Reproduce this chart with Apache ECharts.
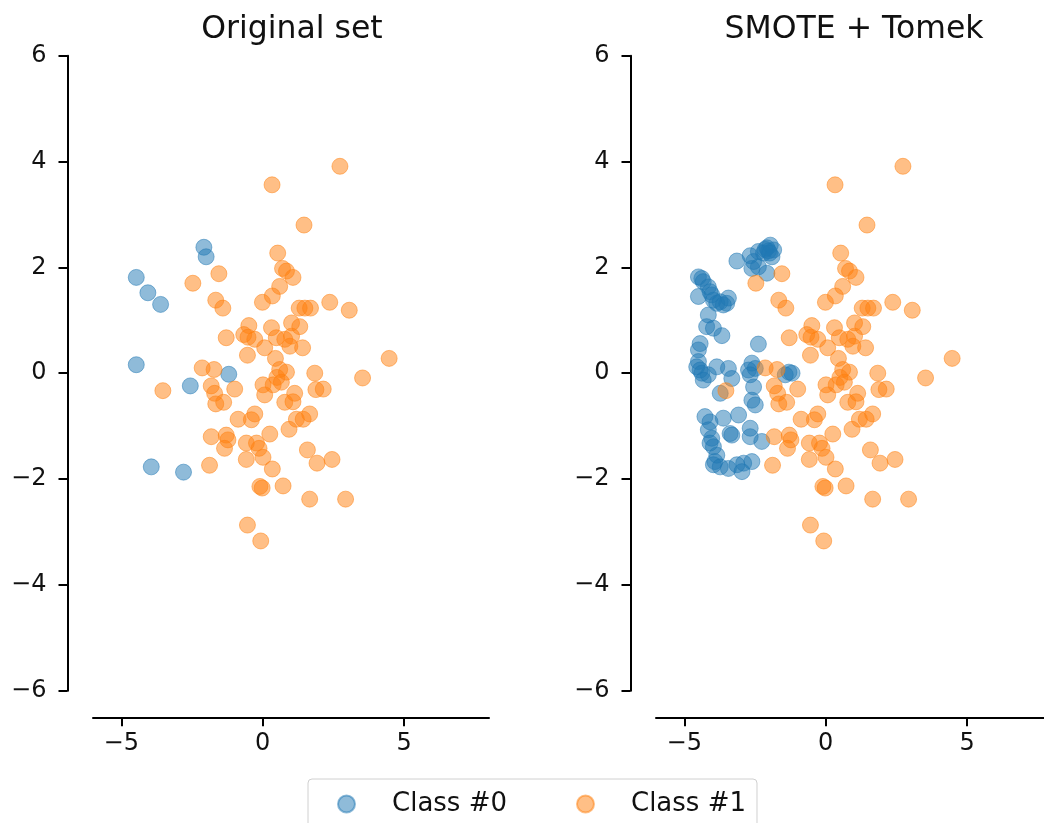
<!DOCTYPE html>
<html>
<head>
<meta charset="utf-8">
<title>Original set vs SMOTE + Tomek</title>
<script src="https://cdn.jsdelivr.net/npm/echarts@6/dist/echarts.min.js"></script>
<style>
  html, body { margin: 0; padding: 0; background: #fff; }
  #chart { width: 1044px; height: 823px; }
</style>
</head>
<body>
<div id="chart"></div>
<script>
// Panel titles and legend names
const panelTitles = ['Original set', 'SMOTE + Tomek'];
const classNames = ['Class #0', 'Class #1'];

// Tick positions shared by both panels
const xTicks = [-5, 0, 5];
const yTicks = [-6, -4, -2, 0, 2, 4, 6];

// Minority class before resampling
const origClass0 = [
  [-2.08, 2.38], [-2.00, 2.20], [-4.47, 1.81], [-4.06, 1.52], [-3.61, 1.30],
  [-4.47, 0.16], [-1.20, -0.02], [-2.56, -0.24], [-3.94, -1.77], [-2.80, -1.87]
];

// Majority class before resampling
const origClass1 = [
  [2.73, 3.91], [0.33, 3.56], [1.46, 2.80], [0.53, 2.27], [0.70, 1.98],
  [0.84, 1.93], [1.07, 1.81], [-1.55, 1.88], [-2.47, 1.70], [0.60, 1.64],
  [0.34, 1.46], [-0.01, 1.34], [-1.66, 1.38], [-1.41, 1.23], [2.37, 1.34],
  [3.06, 1.19], [1.29, 1.23], [1.49, 1.23], [1.69, 1.23], [-0.49, 0.90],
  [0.31, 0.86], [1.02, 0.95], [1.31, 0.88], [-1.29, 0.67], [-0.67, 0.73],
  [-0.52, 0.68], [-0.28, 0.64], [0.48, 0.67], [0.78, 0.64], [1.02, 0.70],
  [0.07, 0.48], [0.96, 0.51], [1.41, 0.48], [-0.54, 0.34], [0.45, 0.28],
  [4.47, 0.28], [-2.14, 0.10], [-1.72, 0.07], [0.60, 0.07], [0.84, 0.02],
  [0.50, -0.08], [1.84, 0.00], [3.53, -0.09], [-3.53, -0.33], [-1.82, -0.24],
  [-1.70, -0.38], [-1.66, -0.58], [-1.38, -0.55], [-0.99, -0.30], [0.01, -0.22],
  [0.07, -0.41], [0.37, -0.22], [0.66, -0.17], [0.78, -0.55], [1.07, -0.54],
  [1.13, -0.38], [1.88, -0.31], [2.14, -0.30], [-0.87, -0.87], [-0.40, -0.88],
  [-0.28, -0.77], [0.93, -1.06], [1.19, -0.87], [1.43, -0.87], [1.66, -0.77],
  [-1.82, -1.20], [-1.29, -1.17], [-1.23, -1.26], [-1.35, -1.42], [-0.58, -1.32],
  [-0.22, -1.32], [-0.13, -1.42], [0.25, -1.15], [-0.58, -1.63], [0.01, -1.59],
  [0.34, -1.81], [-1.88, -1.74], [-0.10, -2.14], [-0.02, -2.17], [0.72, -2.13],
  [1.58, -1.45], [1.92, -1.70], [2.45, -1.63], [1.66, -2.38], [2.93, -2.38],
  [-0.54, -2.87], [-0.07, -3.17]
];

// Minority class after SMOTE oversampling and Tomek-link cleaning
const resampledClass0 = [
  [-3.14, 2.12], [-2.67, 2.22], [-2.38, 2.30], [-2.08, 2.37], [-1.96, 2.42],
  [-2.20, 2.27], [-1.90, 2.20], [-2.61, 1.98], [-2.38, 2.01], [-2.08, 1.89],
  [-2.55, 2.11], [-2.02, 2.31], [-1.84, 2.33], [-2.14, 2.34], [-1.98, 2.27],
  [-4.50, 1.82], [-4.38, 1.79], [-4.33, 1.73], [-4.15, 1.63], [-4.09, 1.54],
  [-4.03, 1.48], [-4.50, 1.45], [-3.97, 1.38], [-3.85, 1.32], [-3.73, 1.35],
  [-3.50, 1.32], [-3.44, 1.42], [-3.62, 1.29], [-4.15, 1.10], [-4.21, 0.88],
  [-3.97, 0.85], [-3.67, 0.71], [-2.38, 0.55], [-4.44, 0.56], [-4.50, 0.44],
  [-4.50, 0.22], [-4.56, 0.12], [-4.44, 0.06], [-4.38, 0.00], [-4.33, -0.13],
  [-4.15, -0.03], [-3.85, 0.12], [-3.44, 0.09], [-3.32, -0.10], [-3.73, -0.38],
  [-2.61, 0.19], [-2.49, 0.09], [-2.73, 0.06], [-2.67, -0.03], [-2.55, -0.26],
  [-2.61, -0.51], [-2.49, -0.60], [-1.19, 0.00], [-1.43, -0.03], [-1.30, 0.02],
  [-4.27, -0.82], [-4.09, -0.92], [-3.62, -0.85], [-3.08, -0.79], [-4.15, -1.07],
  [-4.03, -1.23], [-4.09, -1.32], [-3.97, -1.39], [-3.85, -1.55], [-3.92, -1.67],
  [-3.97, -1.73], [-3.73, -1.77], [-3.38, -1.14], [-3.32, -1.17], [-2.67, -1.04],
  [-2.67, -1.20], [-2.26, -1.29], [-3.44, -1.80], [-3.14, -1.73], [-2.90, -1.70],
  [-2.61, -1.67], [-2.96, -1.86]
];

// The majority class keeps its samples in the resampled set
const resampledClass1 = origClass1;

const FONT = 'DejaVu Sans';
const BLUE = 'rgba(31,119,180,0.5)';
const ORANGE = 'rgba(255,127,14,0.5)';

const fmt = v => (v < 0 ? '\u2212' + Math.abs(v) : String(v));

const gridBox = { top: 55.7, height: 635, width: 396 };
const grids = [
  Object.assign({ left: 93, outerBoundsMode: 'none' }, gridBox),
  Object.assign({ left: 656, outerBoundsMode: 'none' }, gridBox)
];

function xAxisFor(i) {
  return {
    type: 'value', gridIndex: i, min: -6, max: 8, offset: 26.6,
    splitLine: { show: false },
    axisLine: { show: true, onZero: false, lineStyle: { color: '#000', width: 2 } },
    axisTick: { show: true, length: 9, customValues: xTicks, lineStyle: { color: '#000', width: 2 } },
    axisLabel: { customValues: xTicks, formatter: fmt, margin: 14, fontFamily: FONT, fontSize: 24, color: '#111' }
  };
}
function yAxisFor(i) {
  return {
    type: 'value', gridIndex: i, min: -6, max: 6, interval: 2, offset: 25.5,
    splitLine: { show: false },
    axisLine: { show: true, onZero: false, lineStyle: { color: '#000', width: 2 } },
    axisTick: { show: true, length: 9, customValues: yTicks, lineStyle: { color: '#000', width: 2 } },
    axisLabel: { customValues: yTicks, formatter: fmt, margin: 21, fontFamily: FONT, fontSize: 24, color: '#111' }
  };
}

function scatter(name, data, i, color) {
  return {
    type: 'scatter', name: name, data: data,
    xAxisIndex: i, yAxisIndex: i,
    symbol: 'circle', symbolSize: 16,
    itemStyle: { color: color, borderColor: color, borderWidth: 1, opacity: 1 },
    emphasis: { disabled: true },
    animation: false
  };
}

const chart = echarts.init(document.getElementById('chart'), null, { renderer: 'canvas' });
chart.setOption({
  backgroundColor: '#fff',
  animation: false,
  title: [
    { text: panelTitles[0], left: 287, top: 9, textAlign: 'center',
      textStyle: { fontFamily: FONT, fontSize: 31.5, fontWeight: 'normal', color: '#111' } },
    { text: panelTitles[1], left: 849, top: 9, textAlign: 'center',
      textStyle: { fontFamily: FONT, fontSize: 31.5, fontWeight: 'normal', color: '#111' } }
  ],
  legend: {
    data: classNames.map(n => ({ name: n, icon: 'circle' })),
    left: 308, top: 779,
    orient: 'horizontal',
    padding: [12, 11, 12, 29],
    itemWidth: 17, itemHeight: 17, itemGap: 69,
    borderColor: '#d0d0d0', borderWidth: 1, borderRadius: 4,
    selectedMode: false,
    textStyle: { fontFamily: FONT, fontSize: 26, color: '#111', padding: [0, 0, 0, 32], lineHeight: 26 }
  },
  grid: grids,
  xAxis: [xAxisFor(0), xAxisFor(1)],
  yAxis: [yAxisFor(0), yAxisFor(1)],
  series: [
    scatter(classNames[0], origClass0, 0, BLUE),
    scatter(classNames[1], origClass1, 0, ORANGE),
    scatter(classNames[0], resampledClass0, 1, BLUE),
    scatter(classNames[1], resampledClass1, 1, ORANGE)
  ]
});
</script>
</body>
</html>
